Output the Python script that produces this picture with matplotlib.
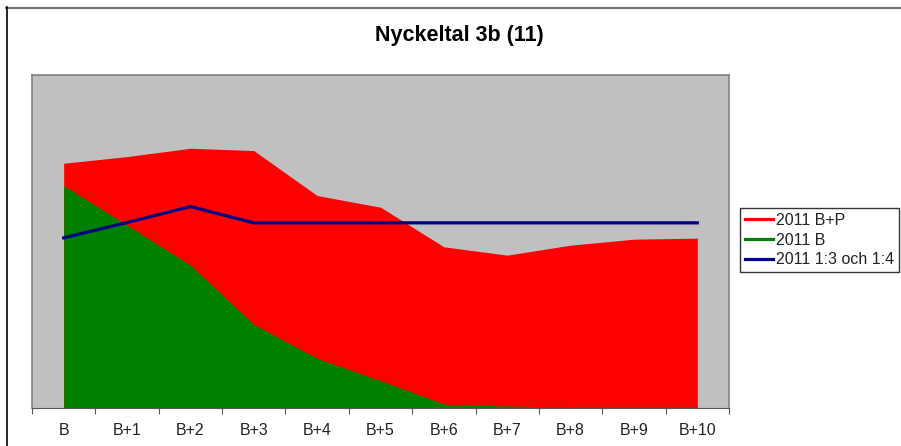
import numpy as np
import matplotlib
matplotlib.use('Agg')
import matplotlib.pyplot as plt
from matplotlib.lines import Line2D

plt.rcParams['font.family'] = ['Liberation Sans', 'DejaVu Sans']

# Values (arbitrary units, no y labels shown)
categories = ['B', 'B+1', 'B+2', 'B+3', 'B+4', 'B+5', 'B+6', 'B+7', 'B+8', 'B+9', 'B+10']
bp_2011 = [73.5, 75.5, 78.0, 77.3, 63.8, 60.3, 48.4, 45.9, 48.9, 50.7, 51.0]
b_2011 = [66.8, 54.9, 42.9, 25.1, 14.9, 8.2, 1.2, 0.6, 0.3, 0.3, 0.3]
target_2011 = [51.1, 55.7, 60.5, 55.6, 55.6, 55.6, 55.6, 55.6, 55.6, 55.6, 55.6]

x = np.arange(len(categories))

fig = plt.figure(figsize=(9.01, 4.46), dpi=100)
W, H = 901, 446
ax = fig.add_axes([32 / W, 1 - 408 / H, (729 - 32) / W, (408 - 75) / H])
ax.set_facecolor('#C0C0C0')

ax.fill_between(x, 0, bp_2011, color='#FF0000', linewidth=0)
ax.fill_between(x, 0, b_2011, color='#008000', linewidth=0)
ax.plot(x, target_2011, color='#000080', linewidth=2.3)

ax.set_xlim(-0.5, len(categories) - 0.5)
ax.set_ylim(0, 100)
ax.set_yticks([])
ax.set_xticks(np.arange(-0.5, len(categories), 1.0))
ax.set_xticklabels([])
ax.set_xticks(x, minor=True)
ax.set_xticklabels(categories, minor=True, fontsize=11.5, color='#222222')
ax.tick_params(axis='x', which='major', direction='out', length=4, color='#555555')
ax.tick_params(axis='x', which='minor', length=0, pad=11)

for s in ['left', 'top', 'right']:
    ax.spines[s].set_color('#808080')
    ax.spines[s].set_linewidth(1.2)
ax.spines['bottom'].set_color('#555555')

fig.text(459 / W, 1 - 36 / H, 'Nyckeltal 3b (11)', ha='center', va='center',
         fontsize=15.5, fontweight='bold')

# outer frame pieces visible in the screenshot
fig.add_artist(Line2D([6 / W, 1], [1 - 7.5 / H] * 2, color='#707070', linewidth=1.5))
fig.add_artist(Line2D([6.5 / W] * 2, [0, 1 - 7 / H], color='black', linewidth=1.2))

handles = [Line2D([], [], color='#FF0000', linewidth=2.3),
           Line2D([], [], color='#008000', linewidth=2.3),
           Line2D([], [], color='#000080', linewidth=2.3)]
labels = ['2011 B+P', '2011 B', '2011 1:3 och 1:4']
leg = fig.legend(handles, labels, loc='upper left', bbox_to_anchor=(740 / W, 1 - 208 / H),
                 fontsize=11.5, frameon=True, fancybox=False, edgecolor='black',
                 handlelength=1.75, handletextpad=0.2, borderpad=0.3,
                 labelspacing=0.3, borderaxespad=0)
leg.get_frame().set_linewidth(1.0)
for t in leg.get_texts():
    t.set_color('#222222')

fig.savefig('out.png', dpi=100)
